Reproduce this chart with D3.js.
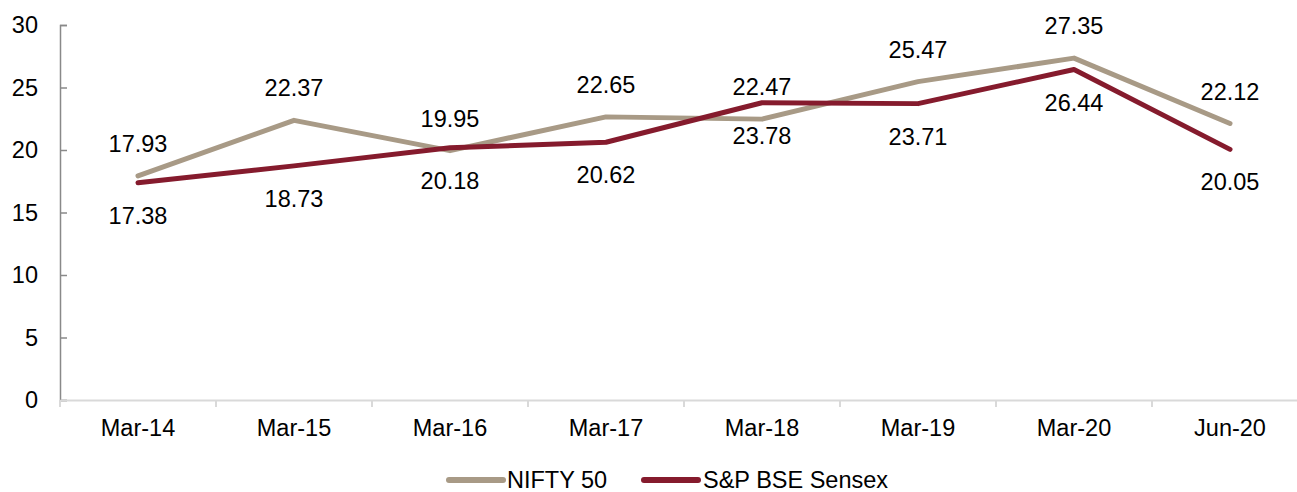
<!DOCTYPE html>
<html>
<head>
<meta charset="utf-8">
<script src="https://cdn.jsdelivr.net/npm/d3@7"></script>
<style>
  html, body { margin: 0; padding: 0; background: #fff; }
  svg { display: block; font-family: "Liberation Sans", Arial, sans-serif; }
</style>
</head>
<body>
<svg id="chart" width="1297" height="492"></svg>
<script>
const categories = ["Mar-14", "Mar-15", "Mar-16", "Mar-17", "Mar-18", "Mar-19", "Mar-20", "Jun-20"];
const niftyValues = [17.93, 22.37, 19.95, 22.65, 22.47, 25.47, 27.35, 22.12];
const sensexValues = [17.38, 18.73, 20.18, 20.62, 23.78, 23.71, 26.44, 20.05];
const yTicks = [0, 5, 10, 15, 20, 25, 30];
const seriesNames = ["NIFTY 50", "S&P BSE Sensex"];
const seriesColors = ["#A89A86", "#851B2D"];

const svg = d3.select("#chart");
const fontSize = 23.5;

const x = d3.scaleBand().domain(categories).range([60, 1308]).padding(0);
const y = d3.scaleLinear().domain([0, 30]).range([400, 25]);

// Y axis
const yAxis = svg.append("g").attr("transform", "translate(60,0)")
  .call(d3.axisLeft(y).tickValues(yTicks).tickSize(-7).tickPadding(22));
yAxis.select(".domain").attr("stroke", "#898989").attr("stroke-width", 1.5);
yAxis.selectAll(".tick line").attr("stroke", "#898989").attr("stroke-width", 1.5);
yAxis.selectAll(".tick text").attr("font-size", fontSize).attr("fill", "#000")
  .attr("font-family", "Liberation Sans, Arial, sans-serif");

// X axis
const xAxis = svg.append("g").attr("transform", "translate(0,400)")
  .call(d3.axisBottom(x).tickSize(0).tickPadding(19));
xAxis.select(".domain").attr("stroke", "#d9d9d9").attr("stroke-width", 2);
xAxis.selectAll(".tick text").attr("font-size", fontSize).attr("fill", "#000")
  .attr("font-family", "Liberation Sans, Arial, sans-serif");
// boundary ticks between categories
const bounds = categories.map(c => x(c));
svg.append("g").selectAll("line").data(bounds).join("line")
  .attr("x1", d => d).attr("x2", d => d)
  .attr("y1", 400).attr("y2", 407)
  .attr("stroke", "#d9d9d9").attr("stroke-width", 2);

const cx = c => x(c) + x.bandwidth() / 2;
const series = [niftyValues, sensexValues];
const line = d3.line().x((d, i) => cx(categories[i])).y(d => y(d));

series.forEach((vals, si) => {
  svg.append("path").datum(vals)
    .attr("d", line)
    .attr("fill", "none")
    .attr("stroke", seriesColors[si])
    .attr("stroke-width", 5)
    .attr("stroke-linejoin", "round")
    .attr("stroke-linecap", "round");
});

// Labels: Nifty above, Sensex below
series.forEach((vals, si) => {
  svg.append("g").selectAll("text").data(vals).join("text")
    .attr("x", (d, i) => cx(categories[i]))
    .attr("y", d => y(d) + (si === 0 ? -32 : 33))
    .attr("text-anchor", "middle")
    .attr("dominant-baseline", "central")
    .attr("font-size", fontSize)
    .attr("fill", "#000")
    .text(d => d.toFixed(2));
});

// Legend
const legendItems = [
  { name: seriesNames[0], color: seriesColors[0], x1: 449, x2: 503, tx: 507 },
  { name: seriesNames[1], color: seriesColors[1], x1: 644, x2: 698, tx: 703 }
];
const lg = svg.append("g");
legendItems.forEach(it => {
  lg.append("line").attr("x1", it.x1).attr("x2", it.x2).attr("y1", 480).attr("y2", 480)
    .attr("stroke", it.color).attr("stroke-width", 6).attr("stroke-linecap", "round");
  lg.append("text").attr("x", it.tx).attr("y", 480).attr("dominant-baseline", "central")
    .attr("font-size", fontSize).attr("fill", "#000").text(it.name);
});
</script>
</body>
</html>
